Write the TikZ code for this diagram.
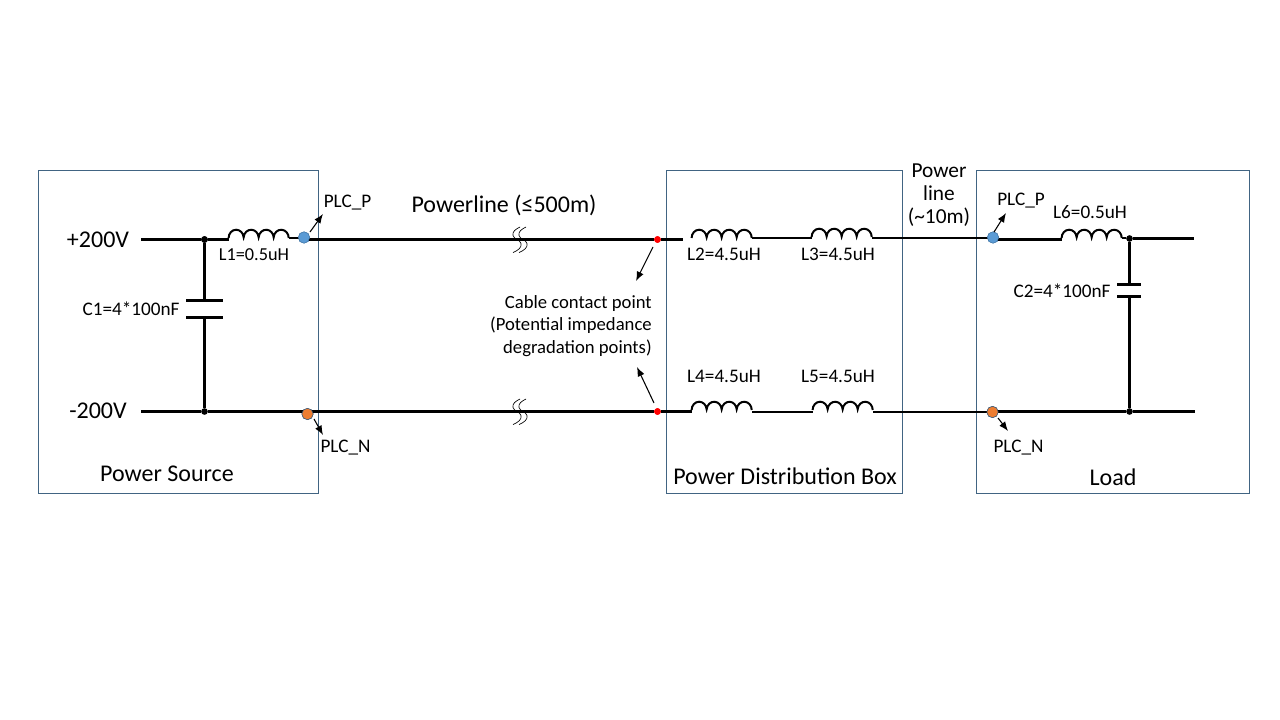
\documentclass[tikz,border=0pt]{standalone}
\usepackage{fontspec}
\setmainfont{Carlito}
\usetikzlibrary{arrows.meta}
\tikzset{
	box/.style={draw=boxcol, line width=0.75pt},
	wire/.style={line width=2.25pt},
	thinwire/.style={line width=1.5pt},
	pointer/.style={line width=0.8pt, -{Latex[length=7pt,width=5.5pt]}},
	junction/.style={circle, fill=black, inner sep=0pt, minimum size=5pt},
	tapblue/.style={circle, fill=plcblue, draw=plcblue!80!black, line width=0.4pt, inner sep=0pt, minimum size=8.5pt},
	taporange/.style={circle, fill=plcorange, draw=plcblue!60!black, line width=0.4pt, inner sep=0pt, minimum size=8.5pt},
	contact/.style={circle, fill=red, inner sep=0pt, minimum size=5pt},
	lbl/.style={inner sep=0pt, font=\fontsize{14.4}{17}\selectfont},
	big/.style={inner sep=0pt, font=\fontsize{18}{21}\selectfont},
}
\definecolor{boxcol}{RGB}{65,100,130}
\definecolor{plcblue}{RGB}{91,155,213}
\definecolor{plcorange}{RGB}{237,125,49}
\def\coil(#1){\draw[thinwire] (#1) ++(-0.4,-1.5) arc[start angle=180,end angle=5,x radius=5.65pt,y radius=6.2pt] arc[start angle=175,end angle=5,x radius=5.65pt,y radius=6.2pt] arc[start angle=175,end angle=5,x radius=5.65pt,y radius=6.2pt] arc[start angle=175,end angle=0,x radius=5.65pt,y radius=6.2pt];}
\def\lineBreak(#1){\draw[line width=0.5pt] (#1) ++(7,-12.5) .. controls +(-4,2) and +(-1,-4) .. ++(-7,8.5) .. controls +(1,4) and +(-1,-4) .. ++(8,8) .. controls +(1,4) and +(5,-2) .. ++(-8,9);}

\begin{document}
\begin{tikzpicture}[x=0.75pt,y=-0.75pt]
	\useasboundingbox (0,0) rectangle (1280,720);

	%%%%% boxes %%%%%
	\draw[box] (38.5,170.5) rectangle (318.5,493.5);
	\draw[box] (666.5,170.5) rectangle (902.5,493.5);
	\draw[box] (976.5,170.5) rectangle (1249.5,493.5);

	%%%%% points on the wires %%%%%
	\coordinate (pIn) at (141,239.5);
	\coordinate (nIn) at (141,411.5);
	\node[junction] (j1) at (204.5,239.5) {};
	\node[junction] (j2) at (204.5,411.5) {};
	\coordinate (c1a) at (204.5,300.5);
	\coordinate (c1b) at (204.5,317.5);
	\node[tapblue] (plcP1) at (304,237.5) {};
	\node[taporange] (plcN1) at (307.5,414) {};
	\node[contact] (cp) at (657.5,239.5) {};
	\node[contact] (cn) at (657.5,411.5) {};
	\node[tapblue] (plcP2) at (993,237.5) {};
	\node[taporange] (plcN2) at (992.5,412) {};
	\node[junction] (j3) at (1129.5,238.5) {};
	\node[junction] (j4) at (1129.5,411.5) {};
	\coordinate (c2a) at (1129.5,284.5);
	\coordinate (c2b) at (1129.5,296.5);
	\coordinate (pOut) at (1194,238.5);
	\coordinate (nOut) at (1195,411.5);

	\coordinate (l1a) at (229,239.5);
	\coordinate (l1b) at (289,238.5);
	\coordinate (l2a) at (683,239.5);
	\coordinate (l2b) at (752,238.5);
	\coordinate (l3a) at (812,238.5);
	\coordinate (l3b) at (872,238.5);
	\coordinate (l4a) at (692,411.5);
	\coordinate (l4b) at (752,411.5);
	\coordinate (l5a) at (813,411.5);
	\coordinate (l5b) at (873,411.5);
	\coordinate (l6a) at (1062,239.5);
	\coordinate (l6b) at (1122,238.5);

	%%%%% wires %%%%%
	\draw[wire] (pIn) -- (j1) -- (l1a);
	\draw[wire] (nIn) -- (j2) -- (cn) -- (l4a);
	\draw[wire] (j1) -- (c1a);
	\draw[wire] (c1b) -- (j2);
	\draw[wire] (plcP1 |- cp) -- (cp) -- (l2a);
	\draw[thinwire] (l1b) -- (plcP1 |- l1b);
	\draw[thinwire] (l2b) -- (l3a);
	\draw[thinwire] (l4b) -- (l5a);
	\draw[thinwire] (l3b) -- (plcP2 |- l3b);
	\draw[thinwire] (l5b) -- (plcN2 |- l5b);
	\draw[wire] (plcP2 |- l6a) -- (l6a);
	\draw[thinwire] (l6b) -- (j3);
	\draw[wire] (j3) -- (pOut);
	\draw[wire] (plcN2 |- j4) -- (j4) -- (nOut);
	\draw[wire] (j3) -- (c2a);
	\draw[wire] (c2b) -- (j4);

	%%%%% capacitors %%%%%
	\draw[wire] (186,300.5) -- (223,300.5);
	\draw[wire] (186,317.5) -- (223,317.5);
	\draw[wire] (1117,284.5) -- (1141,284.5);
	\draw[wire] (1117,296.5) -- (1141,296.5);

	%%%%% inductors %%%%%
	\coil(l1a)
	\coil(692,239.5)
	\coil(l3a)
	\coil(l4a)
	\coil(l5a)
	\coil(l6a)

	%%%%% line breaks %%%%%
	\lineBreak(513,239.5)
	\lineBreak(519,239.5)
	\lineBreak(513,411.5)
	\lineBreak(519,411.5)

	\node[junction] at (j1) {};
	\node[tapblue] at (plcP1) {};
	\node[taporange] at (plcN1) {};
	\node[contact] at (cp) {};
	\node[contact] at (cn) {};
	\node[tapblue] at (plcP2) {};
	\node[taporange] at (plcN2) {};

	%%%%% labels %%%%%
	\node[big] (vp) at (98,240) {+200V};
	\node[big] (vn) at (98,411) {-200V};
	\node[lbl, font=\fontsize{13.7}{16}\selectfont] (l1) at (254,254.5) {L1=0.5uH};
	\node[lbl] (c1) at (131,308.5) {C1=4*100nF};
	\node[lbl] (pP1) at (347.5,202.5) {PLC\_P};
	\node[lbl] (pN1) at (345.5,447.5) {PLC\_N};
	\node[big] at (167,474) {Power Source};
	\node[big] at (504,205) {Powerline (≤500m)};
	\node[lbl, font=\fontsize{14}{17}\selectfont, align=right, anchor=north east] (cable) at (652,295) {Cable contact point\\(Potential impedance\\degradation points)};
	\node[lbl] (l2) at (724,254.5) {L2=4.5uH};
	\node[lbl] (l3) at (838,254.5) {L3=4.5uH};
	\node[lbl] (l4) at (724,376.5) {L4=4.5uH};
	\node[lbl] (l5) at (838,376.5) {L5=4.5uH};
	\node[big] at (785,476) {Power Distribution Box};
	\node[big, font=\fontsize{16}{17}\selectfont, align=center] at (939,195) {Power\\line\\(\textasciitilde10m)};
	\node[lbl] (pP2) at (1021,200.5) {PLC\_P};
	\node[lbl] (l6) at (1090,212.5) {L6=0.5uH};
	\node[lbl] (c2) at (1062,290.5) {C2=4*100nF};
	\node[lbl] (pN2) at (1018.5,447.5) {PLC\_N};
	\node[big] at (1113,477) {Load};

	%%%%% pointers %%%%%
	\coordinate (a1) at (323,214);
	\coordinate (a2) at (323,435);
	\coordinate (a3) at (636,281);
	\coordinate (a4) at (637,367);
	\coordinate (a5) at (1006,213);
	\coordinate (a6) at (1008,431);
	\draw[pointer] (310,232) -- (a1);
	\draw[pointer] (314,419) -- (a2);
	\draw[pointer] (653,247) -- (a3);
	\draw[pointer] (654,403) -- (a4);
	\draw[pointer] (994,232) -- (a5);
	\draw[pointer] (998,418) -- (a6);
\end{tikzpicture}
\end{document}
